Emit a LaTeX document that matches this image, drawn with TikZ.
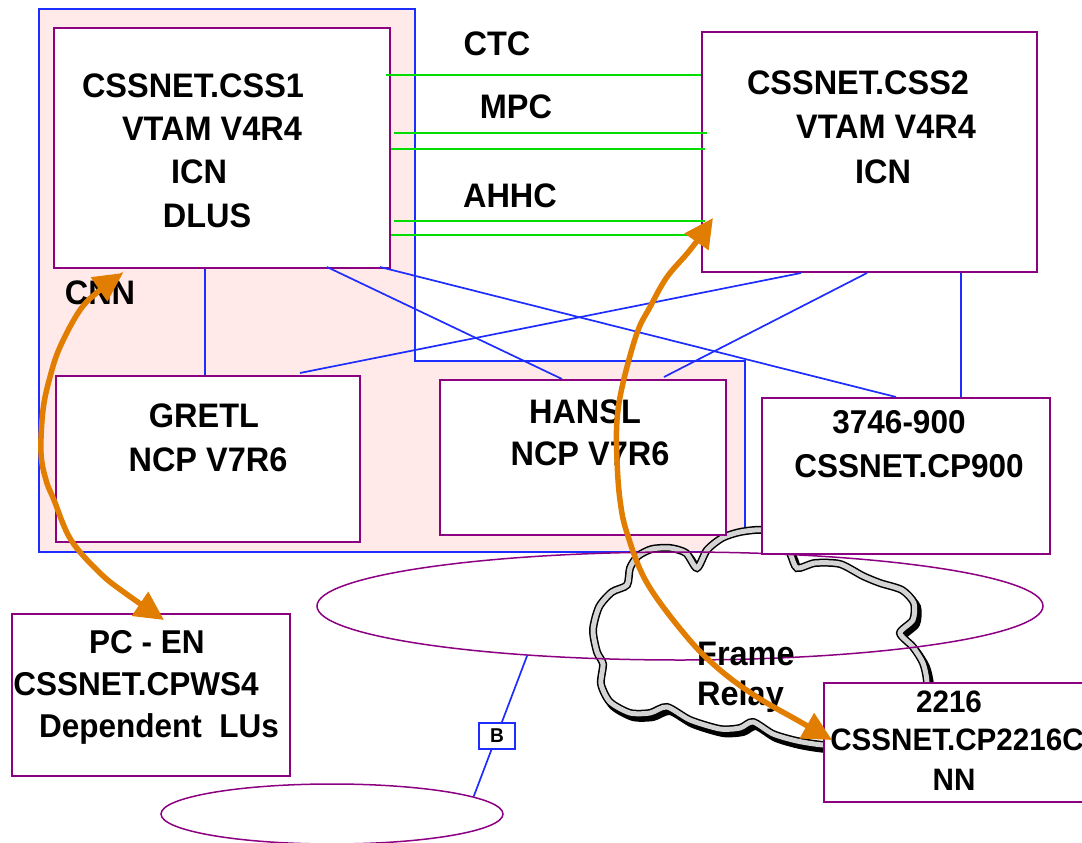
\documentclass[tikz,border=0pt]{standalone}
\usepackage{fontspec}
\setmainfont{Liberation Sans}[FakeStretch=0.955]
\usetikzlibrary{arrows.meta,calc,shapes.geometric}
\definecolor{pur}{RGB}{140,0,130}
\definecolor{blu}{RGB}{30,45,255}
\definecolor{pinkf}{RGB}{255,233,233}
\definecolor{grn}{RGB}{0,222,0}
\definecolor{org}{RGB}{225,125,0}
\definecolor{cgray}{RGB}{212,212,212}
\begin{document}
\begin{tikzpicture}[x=1pt,y=-1pt,
  box/.style={draw=pur, line width=2pt, fill=white, rectangle, inner sep=0pt, anchor=north west},
  lan/.style={ellipse, draw=pur, line width=1.5pt, inner sep=0pt},
  lbl/.style={font=\fontsize{34}{40}\selectfont\bfseries, anchor=base, inner sep=0pt},
  lblm/.style={font=\fontsize{33}{40}\selectfont\bfseries, anchor=base, inner sep=0pt},
  lbls/.style={font=\fontsize{31}{38}\selectfont\bfseries, anchor=base, inner sep=0pt},
  conn/.style={draw=blu, line width=1.7pt},
  chan/.style={draw=grn, line width=2pt},
  arr/.style={draw=org, line width=5.5pt, {Triangle[length=29pt,width=28pt]}-{Triangle[length=29pt,width=28pt]}}
]
\useasboundingbox (0,0) rectangle (1082,843);
% CNN region
\draw[blu, line width=2pt, fill=pinkf] (39,9) -- (415,9) -- (415,361) -- (745,361) -- (745,552) -- (39,552) -- cycle;
% Frame relay cloud
\def\cloudpts{(697,568) (686,553) (670,548) (652,549) (638,556) (630,568) (627,585)
 (612,592) (599,607) (593,630) (597,652) (603,664)
 (601,684) (610,702) (630,713) (650,713) (667,707)
 (690,720) (720,729) (740,728) (753,722)
 (773,734) (797,741) (823,745) (870,748) (912,735) (925,708) (927,682) (923,663) (913,647) (900,633)
 (913,620) (914,603) (902,590) (880,583)
 (863,576) (840,564) (815,563) (797,568)
 (790,553) (780,538) (762,530) (740,532) (722,538) (707,550)}
\draw[black, line width=8pt, shift={(3,4)}] plot[smooth cycle, tension=0.45] coordinates {\cloudpts};
\fill[white] plot[smooth cycle, tension=0.45] coordinates {\cloudpts};
\draw[black, line width=8pt] plot[smooth cycle, tension=0.45] coordinates {\cloudpts};
\draw[cgray, line width=5pt] plot[smooth cycle, tension=0.45] coordinates {\cloudpts};
% LAN ellipses
\node[lan, minimum width=726pt, minimum height=108pt] (lan1) at (680,606) {};
\node[lan, minimum width=342pt, minimum height=60pt] (lan2) at (332,814) {};
% boxes
\node[box, minimum width=336pt, minimum height=240pt] (css1) at (53,27) {};
\node[box, minimum width=335pt, minimum height=240pt] (css2) at (701,31) {};
\node[box, minimum width=304pt, minimum height=166pt] (gretl) at (55,375) {};
\node[box, minimum width=286pt, minimum height=155pt] (hansl) at (439,379) {};
\node[box, minimum width=288pt, minimum height=156pt] (cp900) at (761,397) {};
\node[box, minimum width=278pt, minimum height=162pt] (pcen) at (11,613) {};
\node[box, minimum width=270pt, minimum height=119pt] (n2216) at (823,682) {};
% channel connections
\draw[chan] ($(css1.north east)+(-5,48)$) -- ($(css2.north west)+(0,44)$);
\draw[chan] ($(css1.north east)+(3,106)$) -- ($(css2.north west)+(6,102)$);
\draw[chan] ($(css1.north east)+(0,122)$) -- ($(css2.north west)+(4,118)$);
\draw[chan] ($(css1.north east)+(3,194)$) -- ($(css2.north west)+(4,190)$);
\draw[chan] ($(css1.north east)+(0,208)$) -- ($(css2.north west)+(-11,204)$);
% blue links
\draw[conn] ($(css1.south west)+(152,0)$) -- ($(gretl.north west)+(150,0)$);
\draw[conn] ($(css1.south west)+(274,-2)$) -- ($(hansl.north west)+(123,0)$);
\draw[conn] ($(css1.south west)+(327,-2)$) -- ($(cp900.north west)+(135,0)$);
\draw[conn] ($(css2.south west)+(100,0)$) -- ($(gretl.north west)+(245,-2)$);
\draw[conn] ($(css2.south west)+(166,0)$) -- ($(hansl.north west)+(225,-2)$);
\draw[conn] ($(css2.south west)+(260,0)$) -- ($(cp900.north west)+(200,0)$);
\draw[conn] (lan1.198.7) -- (lan2.7);
\node[draw=blu, line width=1.5pt, fill=white, minimum width=36pt, minimum height=26pt, inner sep=0pt,
  font=\fontsize{20}{20}\selectfont\bfseries] (bb) at (497,736) {B};
% labels
\node[lbl] (t1a) at (193,97) {CSSNET.CSS1};
\node[lbl] (t1b) at (212,140) {VTAM V4R4};
\node[lbl] (t1c) at (199,183) {ICN};
\node[lbl] (t1d) at (207,227) {DLUS};
\node[lbl] (t2a) at (858,95) {CSSNET.CSS2};
\node[lbl] (t2b) at (886,138) {VTAM V4R4};
\node[lbl] (t2c) at (883,183) {ICN};
\node[lbl] (ctc) at (497,56) {CTC};
\node[lbl] (mpc) at (516,118) {MPC};
\node[lbl] (ahhc) at (510,207) {AHHC};
\node[lbl] (cnn) at (100,304) {CNN};
\node[lbl] (g1) at (204,427) {GRETL};
\node[lbl] (g2) at (208,471) {NCP V7R6};
\node[lbl] (h1) at (585,423) {HANSL};
\node[lbl] (h2) at (590,465) {NCP V7R6};
\node[lblm] (c1) at (899,433) {3746-900};
\node[lblm] (c2) at (909,477) {CSSNET.CP900};
\node[lblm] (p1) at (147,653) {PC - EN};
\node[lblm] (p2) at (136,695) {CSSNET.CPWS4};
\node[lblm] (p3) at (159,737) {Dependent\ \ LUs};
\node[lbls] (n1) at (949,712) {2216};
\node[lbls] (n2) at (957,750) {CSSNET.CP2216C};
\node[lbls] (n3) at (954,790) {NN};
\node[lbl, anchor=base west] (fr1) at (697,665) {Frame};
\node[lbl, anchor=base west] (fr2) at (697,705) {Relay};
% sessions
\coordinate (a1s) at ($(css1.south west)+(70,4)$);
\coordinate (a1e) at ($(pcen.north west)+(153,7)$);
\coordinate (a2s) at ($(css2.north west)+(12,187)$);
\coordinate (a2e) at ($(n2216.north west)+(9,58)$);
\draw[arr] plot[smooth, tension=0.6] coordinates {(a1s) (100,290) (80,310) (60,347) (50,377) (43,410) (41,453) (46,480) (54,500) (71,540) (100,573) (125,593) (a1e)};
\draw[arr] plot[smooth, tension=0.6] coordinates {(a2s) (690,250) (667,277) (650,307) (637,333) (623,383) (617,420) (617,460) (620,500) (627,533) (647,583) (687,637) (720,670) (757,697) (797,720) (a2e)};
\end{tikzpicture}
\end{document}
